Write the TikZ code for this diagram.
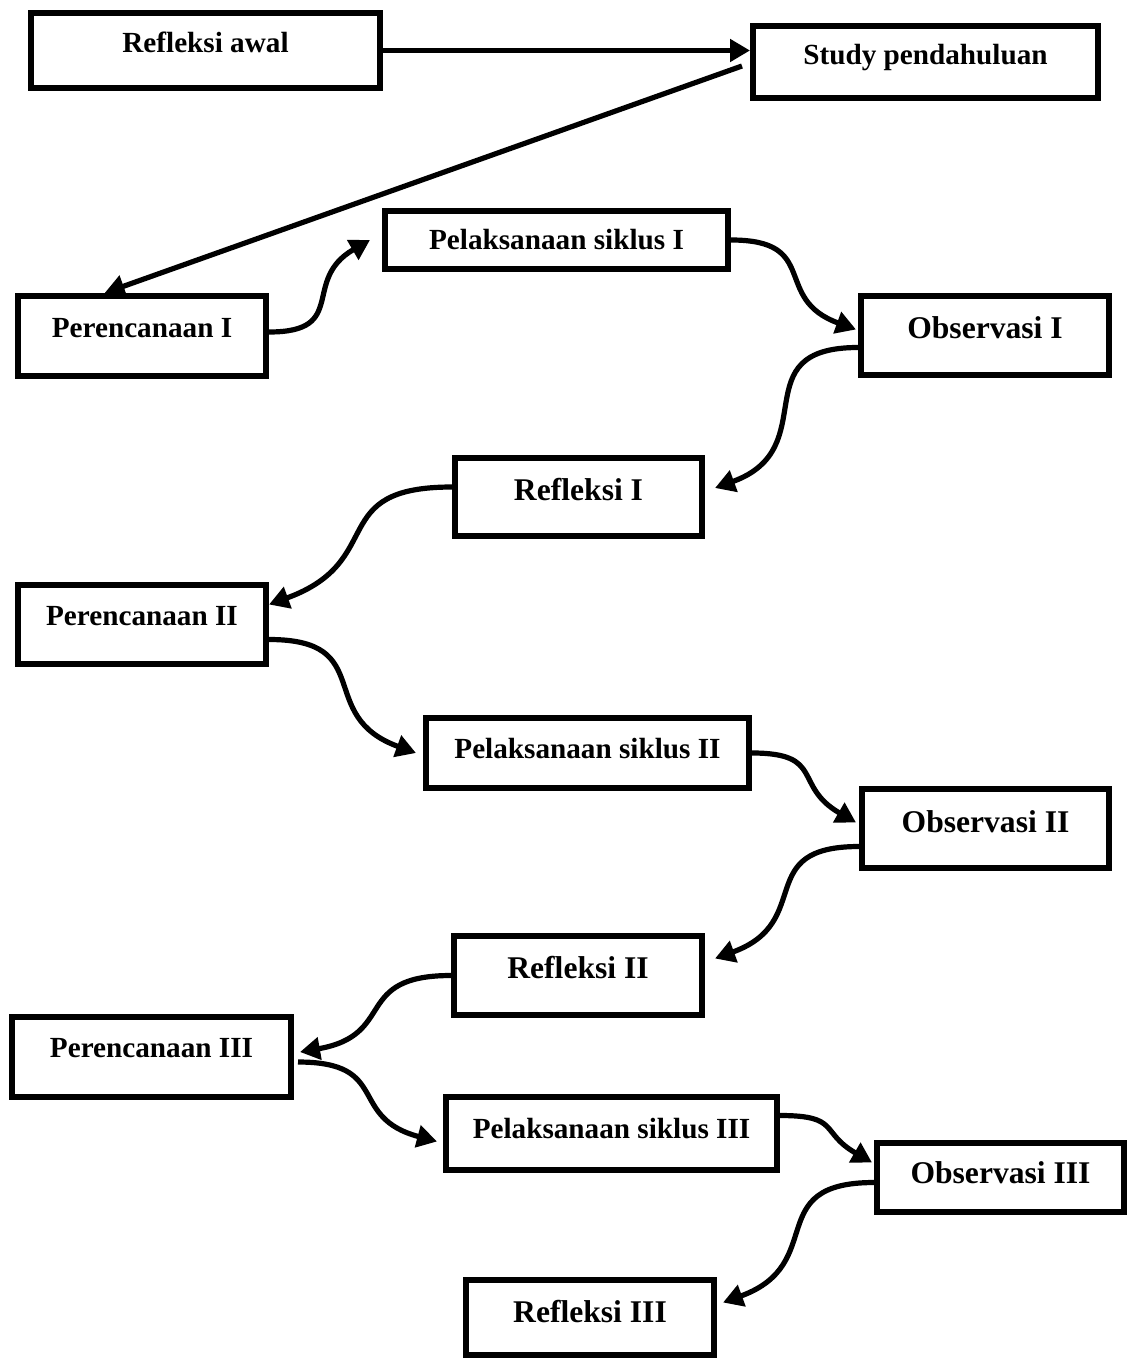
\documentclass[tikz,border=0pt]{standalone}
\usepackage{fontspec}
\setmainfont{Liberation Serif}
\usetikzlibrary{arrows.meta}

\begin{document}
\begin{tikzpicture}[x=0.5pt, y=-0.5pt,
  box/.style={draw, line width=3pt, inner sep=0pt, anchor=base,
    font=\bfseries\fontsize{14.6}{18}\selectfont},
  big/.style={font=\bfseries\fontsize{15.8}{19}\selectfont},
  flow/.style={line width=2.6pt, looseness=1.5, -{Triangle[length=10pt,width=11pt]}}]
  \useasboundingbox (0,0) rectangle (1127,1358);
  % Top row
  \node[box, minimum width=174.5pt, text height=20pt, text depth=17.5pt] (awal) at (205.5,53) {Refleksi awal};
  \node[box, minimum width=172.5pt, text height=19.5pt, text depth=16.5pt] (studi) at (925.5,65) {Study pendahuluan};
  % Cycle I
  \node[box, minimum width=171.5pt, text height=19.5pt, text depth=9.5pt] (pel1) at (556.5,250) {Pelaksanaan siklus I};
  \node[box, minimum width=124pt, text height=20.5pt, text depth=19.5pt] (ren1) at (142,337) {Perencanaan I};
  \node[box, big, minimum width=124pt, text height=21pt, text depth=18.5pt] (obs1) at (985,338) {Observasi I};
  \node[box, big, minimum width=123.5pt, text height=21pt, text depth=18pt] (ref1) at (578.5,500) {Refleksi I};
  % Cycle II
  \node[box, minimum width=124pt, text height=20pt, text depth=19.5pt] (ren2) at (142,625) {Perencanaan II};
  \node[box, minimum width=161.5pt, text height=20pt, text depth=15pt] (pel2) at (587.5,758) {Pelaksanaan siklus II};
  \node[box, big, minimum width=123.5pt, text height=21.5pt, text depth=18pt] (obs2) at (985.5,832) {Observasi II};
  \node[box, big, minimum width=124pt, text height=21pt, text depth=18.5pt] (ref2) at (578,978) {Refleksi II};
  % Cycle III
  \node[box, minimum width=139.5pt, text height=20pt, text depth=20pt] (ren3) at (151.5,1057) {Perencanaan III};
  \node[box, minimum width=165.5pt, text height=20.5pt, text depth=16pt] (pel3) at (611.5,1138) {Pelaksanaan siklus III};
  \node[box, big, minimum width=123.5pt, text height=20pt, text depth=14.5pt] (obs3) at (1000.5,1183) {Observasi III};
  \node[box, big, minimum width=124pt, text height=21pt, text depth=16.5pt] (ref3) at (590,1322) {Refleksi III};
  % Arrows
  \draw[flow] (awal.east) -- (awal.east -| studi.west);
  \draw[flow] ([shift={(-4pt,-2pt)}]studi.west) -- (ren1.131);
  \draw[flow] ([yshift=2pt]ren1.east) to[out=0, in=210] ([xshift=-6pt]pel1.west);
  \draw[flow] (pel1.east) to[out=0, in=160] ([shift={(-1pt,3pt)}]obs1.west);
  \draw[flow] ([yshift=-6pt]obs1.west) to[out=180, in=20] ([shift={(5pt,4.5pt)}]ref1.east);
  \draw[flow] ([yshift=5pt]ref1.west) to[out=180, in=20] ([yshift=10pt]ren2.east);
  \draw[flow] ([yshift=-7.5pt]ren2.east) to[out=0, in=160] ([xshift=-3.5pt]pel2.west);
  \draw[flow] (pel2.east) to[out=0, in=150] ([shift={(-1.5pt,3pt)}]obs2.west);
  \draw[flow] ([yshift=-9pt]obs2.west) to[out=180, in=20] ([shift={(5pt,8.5pt)}]ref2.east);
  \draw[flow] (ref2.west) to[out=180, in=10] ([shift={(3pt,2.5pt)}]ren3.east);
  \draw[flow] ([shift={(2pt,-2.5pt)}]ren3.east) to[out=0, in=165] ([shift={(-3pt,-4pt)}]pel3.west);
  \draw[flow] ([yshift=9pt]pel3.east) to[out=0, in=150] ([shift={(-1pt,7.5pt)}]obs3.west);
  \draw[flow] ([yshift=-2.5pt]obs3.west) to[out=180, in=20] ([shift={(3pt,7.5pt)}]ref3.east);
\end{tikzpicture}
\end{document}
